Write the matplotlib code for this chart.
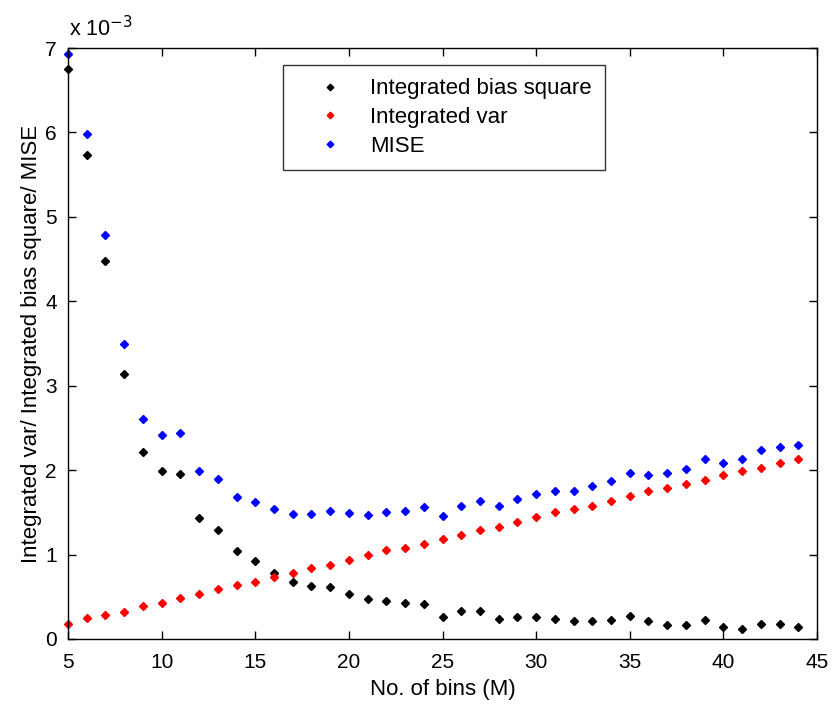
import matplotlib
matplotlib.use("Agg")
import matplotlib.pyplot as plt
import numpy as np

plt.rcParams['font.family'] = ['Liberation Sans', 'DejaVu Sans']

bins = list(range(5, 45))
bias_sq = [6.75, 5.73, 4.48, 3.14, 2.21, 1.99, 1.95, 1.43, 1.29, 1.04,
           0.92, 0.78, 0.67, 0.63, 0.61, 0.53, 0.47, 0.45, 0.43, 0.41,
           0.26, 0.33, 0.33, 0.24, 0.26, 0.26, 0.24, 0.21, 0.21, 0.23,
           0.27, 0.21, 0.16, 0.16, 0.23, 0.14, 0.12, 0.18, 0.18, 0.14]
int_var = [0.18, 0.25, 0.285, 0.32, 0.39, 0.43, 0.49, 0.53, 0.59, 0.64,
           0.68, 0.74, 0.78, 0.84, 0.88, 0.94, 0.99, 1.05, 1.08, 1.12,
           1.19, 1.23, 1.29, 1.33, 1.39, 1.44, 1.50, 1.54, 1.58, 1.64,
           1.69, 1.75, 1.79, 1.84, 1.88, 1.94, 1.99, 2.03, 2.09, 2.13]
mise = [6.93, 5.98, 4.79, 3.49, 2.61, 2.42, 2.44, 1.99, 1.89, 1.68,
        1.62, 1.54, 1.48, 1.48, 1.52, 1.49, 1.47, 1.50, 1.52, 1.56,
        1.46, 1.58, 1.64, 1.58, 1.66, 1.72, 1.75, 1.75, 1.81, 1.87,
        1.97, 1.94, 1.97, 2.01, 2.13, 2.09, 2.13, 2.24, 2.28, 2.30]
scale = 1e-3

fig = plt.figure(figsize=(8.32, 7.04), dpi=100)
ax = fig.add_axes([68/832, 1-639/704, (817-68)/832, (639-48)/704])

ms = 4.2
ax.plot(bins, np.array(bias_sq)*scale, 'D', color='black', ms=ms, ls='none',
        label='Integrated bias square', clip_on=False)
ax.plot(bins, np.array(int_var)*scale, 'D', color='#ff0000', ms=ms, ls='none',
        label='Integrated var', clip_on=False)
ax.plot(bins, np.array(mise)*scale, 'D', color='#0000ff', ms=ms, ls='none',
        label='MISE', clip_on=False)

ax.set_xlim(5, 45)
ax.set_ylim(0, 7e-3)
ax.set_xticks(range(5, 46, 5))
ax.set_yticks(np.arange(0, 8)*1e-3)
ax.set_yticklabels([str(i) for i in range(8)])
ax.tick_params(direction='in', top=True, right=True, labelsize=15, length=6,
               width=1)
ax.tick_params(axis='x', pad=10)
ax.tick_params(axis='y', pad=8)
for s in ax.spines.values():
    s.set_linewidth(1.0)

ax.set_xlabel('No. of bins (M)', fontsize=16, labelpad=5)
ax.set_ylabel('Integrated var/ Integrated bias square/ MISE', fontsize=16, labelpad=2)

fig.text(69/832, 1-36/704, r'x 10$^{-3}$', fontsize=15.5, va='baseline', ha='left')

leg = ax.legend(loc='upper left', bbox_to_anchor=((283-68)/749, (639-65)/591),
                fontsize=16, frameon=True, fancybox=False, edgecolor='black',
                handlelength=3.0, handletextpad=0.3, borderpad=0.6,
                labelspacing=0.35, markerscale=0.8, borderaxespad=0)
leg.get_frame().set_linewidth(1.0)

fig.savefig('out.png', dpi=100)
